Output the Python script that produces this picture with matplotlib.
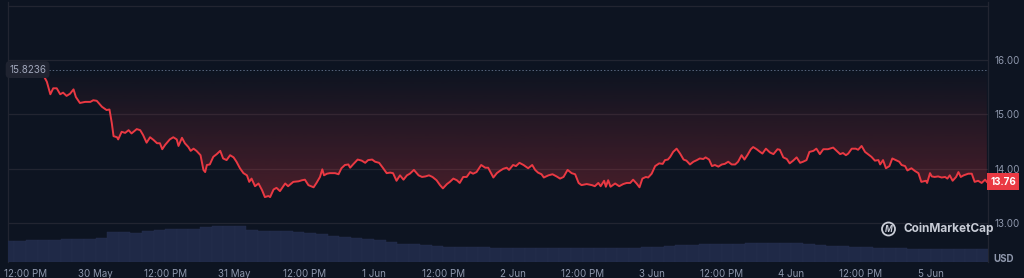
import numpy as np
import matplotlib
matplotlib.use("Agg")
import matplotlib.pyplot as plt
from matplotlib.patches import Ellipse

# hours since 29 May 00:00 and price in USD
hours = [
    9.0, 11.8, 14.1, 15.0, 15.6, 16.2, 16.7, 17.3, 17.9, 18.4, 19.0, 19.6, 20.2, 20.6,
    21.3, 22.2, 23.1, 23.6, 24.2, 25.1, 25.9, 26.4, 26.8, 27.1, 27.7, 27.9, 28.5, 29.1,
    29.7, 30.2, 31.1, 31.7, 32.2, 32.8, 33.4, 34.0, 34.6, 35.1, 35.5, 36.0, 36.8,
    37.4, 38.0, 38.3, 38.9, 39.4, 40.0, 40.4, 40.9, 41.4, 42.1, 42.6, 42.9, 43.2, 43.7,
    44.3, 44.9, 45.5, 46.0, 46.6, 47.2, 47.8, 48.3, 48.9, 49.5, 50.1, 50.5, 50.9, 51.5,
    52.1, 52.7, 53.2, 53.8, 54.1, 54.7, 55.2, 55.8, 56.7, 57.2, 58.1, 59.0, 59.6, 60.1,
    60.7, 61.6, 62.1, 62.7, 63.1, 63.4, 63.9, 64.4, 65.3,
    65.9, 66.4, 67.0, 67.6, 67.9, 68.4, 69.2, 69.9, 70.5, 71.0, 71.7, 72.2, 72.9, 73.6,
    74.2, 74.8, 75.3, 75.9, 76.5, 77.1, 77.7, 78.2, 78.9, 79.7, 80.3, 80.9, 81.5, 82.1,
    82.8, 83.4, 83.9, 84.6, 85.1, 85.7, 86.3, 86.8, 87.4, 88.0, 88.6, 89.1, 89.7, 90.5,
    91.2, 91.7, 92.6, 93.2, 93.7,
    94.3, 94.9, 95.3, 96.0, 96.5, 97.1, 97.8, 98.6, 99.3, 99.8, 100.3, 100.9, 101.3,
    102.1, 102.8, 103.5, 104.1, 104.7, 105.4, 106.1, 106.7, 107.3, 107.8, 108.7, 109.6,
    110.1, 110.7, 111.1, 111.7, 112.0, 112.4, 112.8, 113.6, 114.3, 115.0, 115.6, 116.2,
    116.7, 117.3, 117.8, 118.3, 118.9, 119.3, 119.9, 120.5, 121.2, 121.8, 122.2,
    122.7, 123.1, 123.6, 124.2, 124.8, 125.4, 125.9, 126.5, 127.1, 127.7, 128.2, 128.8,
    129.2, 129.8, 130.3, 130.8, 131.4, 132.0, 132.5, 133.1, 133.7, 134.3, 134.8, 135.4,
    135.9, 136.4, 137.0, 137.4, 138.0, 138.6, 139.0, 139.6, 140.3, 140.9, 141.6, 142.0,
    142.6, 143.2, 143.7, 144.3, 144.9, 145.5, 146.0, 146.6, 147.1, 147.8, 148.3, 148.9,
    149.5, 150.3,
    150.6, 151.2, 151.8, 152.4, 152.9, 153.4, 153.8, 154.4, 155.1, 155.5, 156.1, 156.7,
    157.2, 157.8, 158.4, 159.0, 159.3, 159.8, 160.3, 160.9, 161.4, 162.0, 162.6, 163.0,
    163.6, 164.0, 164.7, 165.3, 165.9, 166.4, 167.2, 167.4, 167.9, 168.2, 168.7, 169.3,
    169.9, 170.5, 170.9, 171.3, 171.8, 172.4, 172.8, 173.2, 173.7, 174.5, 175.1, 175.6,
    176.2, 176.8, 177.4, 177.7,
]
price = [
    15.80, 15.79, 15.78, 15.72, 15.60, 15.37, 15.48, 15.48, 15.37, 15.40, 15.34, 15.38, 15.46, 15.32,
    15.21, 15.23, 15.23, 15.26, 15.25, 15.14, 15.08, 15.09, 14.84, 14.60, 14.58, 14.54, 14.68, 14.66,
    14.71, 14.65, 14.73, 14.71, 14.62, 14.48, 14.58, 14.53, 14.47, 14.47, 14.36, 14.44, 14.54,
    14.58, 14.54, 14.42, 14.57, 14.47, 14.40, 14.33, 14.37, 14.33, 14.25, 13.98, 13.94, 14.07, 14.08,
    14.22, 14.27, 14.33, 14.19, 14.16, 14.25, 14.21, 14.13, 14.01, 13.92, 13.88, 13.76, 13.82, 13.68,
    13.73, 13.61, 13.48, 13.50, 13.48, 13.62, 13.65, 13.59, 13.73, 13.68, 13.76, 13.77, 13.79, 13.80,
    13.70, 13.66, 13.74, 13.85, 13.99, 13.88, 13.91, 13.92, 13.92,
    13.90, 14.01, 14.07, 14.08, 14.02, 14.08, 14.17, 14.15, 14.11, 14.16, 14.17, 14.13, 14.11, 14.01,
    13.92, 13.93, 13.92, 13.78, 13.88, 13.80, 13.88, 13.91, 13.98, 13.88, 13.85, 13.86, 13.88, 13.85,
    13.79, 13.70, 13.64, 13.72, 13.76, 13.82, 13.79, 13.74, 13.85, 13.85, 13.94, 13.91, 13.94, 14.07,
    14.02, 14.02, 13.84, 13.92, 13.96,
    14.00, 14.02, 13.98, 14.07, 14.05, 14.11, 14.07, 14.01, 14.07, 13.98, 13.93, 13.90, 13.84,
    13.88, 13.90, 13.86, 13.82, 13.85, 13.98, 13.92, 13.90, 13.74, 13.70, 13.72, 13.70,
    13.68, 13.74, 13.68, 13.78, 13.67, 13.79, 13.67, 13.73, 13.68, 13.72, 13.74, 13.74,
    13.80, 13.73, 13.66, 13.82, 13.85, 13.84, 13.91, 14.05, 14.10, 14.09, 14.16,
    14.17, 14.22, 14.31, 14.37, 14.28, 14.17, 14.15, 14.08, 14.13, 14.16, 14.19, 14.18,
    14.21, 14.17, 14.05, 14.07, 14.04, 14.08, 14.09, 14.13, 14.08, 14.08, 14.13, 14.25,
    14.17, 14.25, 14.36, 14.40, 14.36, 14.31, 14.28, 14.37, 14.30, 14.27, 14.36, 14.35,
    14.21, 14.18, 14.10, 14.15, 14.21, 14.11, 14.13, 14.16, 14.31, 14.33, 14.37, 14.27,
    14.36, 14.36,
    14.37, 14.39, 14.33, 14.27, 14.29, 14.25, 14.28, 14.37, 14.37, 14.35, 14.42, 14.31,
    14.27, 14.22, 14.15, 14.16, 14.08, 14.16, 14.01, 14.05, 14.19, 14.16, 14.13, 14.07,
    14.05, 13.97, 14.01, 13.96, 13.92, 13.76, 13.78, 13.74, 13.92, 13.86, 13.85, 13.86,
    13.84, 13.85, 13.82, 13.88, 13.78, 13.85, 13.94, 13.85, 13.88, 13.91, 13.91, 13.76,
    13.78, 13.74, 13.80, 13.76,
]
open_price = 15.8236
last_price = 13.76

# volume (millions USD), one bar per 2 hours
vol_hours = list(range(9, 178, 2))
volume = [
    21.3, 21.5, 21.8, 22.0, 22.3, 22.6, 23.0, 23.4, 23.9, 30.0, 29.6, 29.4, 30.8, 32.2,
    32.8, 33.0, 33.2, 35.3, 36.0, 36.0, 36.0, 32.0, 31.2, 31.1, 31.0, 29.8, 29.2, 28.4,
    26.0, 24.6, 24.0, 23.3, 22.2, 20.4, 18.5, 17.6, 16.6, 15.9, 15.5, 15.1, 15.0, 14.7,
    14.5, 14.3, 14.3, 14.3, 14.3, 14.3, 14.3, 14.3, 14.3, 14.3, 14.3, 14.3, 14.4, 14.7,
    15.0, 16.3, 17.0, 17.5, 17.7, 17.7, 17.7, 18.2, 19.2, 19.3, 19.3, 19.3, 18.8, 17.6,
    16.8, 16.2, 15.6, 15.1, 14.7, 14.3, 13.9, 13.7, 13.5, 13.4, 13.2, 13.1, 13.0, 13.0,
    13.0,
]

tick_hours = [12, 24, 36, 48, 60, 72, 84, 96, 108, 120, 132, 144, 156, 168]
tick_labels = ["12:00 PM", "30 May", "12:00 PM", "31 May", "12:00 PM", "1 Jun", "12:00 PM",
               "2 Jun", "12:00 PM", "3 Jun", "12:00 PM", "4 Jun", "12:00 PM", "5 Jun"]
price_ticks = [13, 14, 15, 16, 17]

BG = "#0d1421"
GRID = "#222531"
RED = "#ea3943"
TXT = "#8f98ad"

plt.rcParams["font.family"] = ["Inter", "DejaVu Sans"]

fig = plt.figure(figsize=(10.24, 2.78), dpi=100, facecolor=BG)
ax = fig.add_axes([8 / 1024, 16 / 278, 980 / 1024, 260 / 278])
ax.set_facecolor(BG)

# volume on its own scale at the bottom
vax = ax.twinx()
vax.bar(vol_hours, volume, width=2.0, color="#1f2947", edgecolor="#26304f", linewidth=0.3, zorder=1)
vax.set_ylim(0, 260)
vax.set_yticks([])
for s in vax.spines.values():
    s.set_visible(False)

# gradient between baseline and price line
poly = ax.fill_between(hours, price, open_price, color="none")
grad = np.zeros((256, 1, 4))
grad[:, 0, 0] = 234 / 255
grad[:, 0, 1] = 57 / 255
grad[:, 0, 2] = 67 / 255
grad[:, 0, 3] = np.linspace(0.0, 0.28, 256)
im = ax.imshow(grad, extent=[hours[0], hours[-1], 13.4, open_price], origin="upper",
               aspect="auto", zorder=2, interpolation="bilinear")
im.set_clip_path(poly.get_paths()[0], ax.transData)

ax.plot(hours, price, color=RED, lw=1.4, zorder=4, solid_joinstyle="round")
ax.axhline(open_price, color="#58667e", lw=0.7, ls=(0, (1.5, 2)), zorder=3)

ax.set_xlim(8.9, 177.9)
ax.set_ylim(12.287, 17.066)
ax.set_yticks(price_ticks)
ax.set_yticklabels(["13.00", "14.00", "15.00", "16.00", ""])
ax.yaxis.tick_right()
ax.grid(axis="y", color=GRID, lw=0.9, zorder=0)
ax.set_xticks(tick_hours)
ax.set_xticklabels(tick_labels)
ax.tick_params(axis="both", length=0, colors=TXT, labelsize=7)
ax.tick_params(axis="y", pad=5)
ax.tick_params(axis="x", pad=5)
for name, s in ax.spines.items():
    s.set_color(GRID)
    s.set_linewidth(0.9)
ax.spines["bottom"].set_visible(False)
ax.spines["top"].set_visible(False)

yt = ax.get_yaxis_transform()
ax.text(0.02, open_price, "15.8236", transform=yt, ha="center", va="center", fontsize=7,
        color="#a1a7bb", zorder=6,
        bbox=dict(boxstyle="round,pad=0.35,rounding_size=0.4", fc="#1f2330", ec="none"))
ax.text(1.0155, last_price, "13.76", transform=yt, ha="center", va="center", fontsize=7,
        color="white", fontweight="bold", zorder=6, clip_on=False,
        bbox=dict(boxstyle="square,pad=0.35", fc=RED, ec="none"))

fig.text(1004 / 1024, 19 / 278, "USD", ha="center", va="center", fontsize=7,
         color=TXT, fontweight="bold")

# watermark
fig.patches.append(Ellipse((888.5 / 1024, 49 / 278), 13 / 1024, 13 / 278, transform=fig.transFigure,
                           fill=False, ec="#c8ccd6", lw=1.3))
fig.text(888.5 / 1024, 48.5 / 278, "M", ha="center", va="center", fontsize=6, color="#c8ccd6",
         fontweight="bold", style="italic")
fig.text(903 / 1024, 49 / 278, "CoinMarketCap", ha="left", va="center", fontsize=8.5,
         color="#c8ccd6", fontweight="bold")

fig.savefig("out.png", dpi=100, facecolor=BG)
